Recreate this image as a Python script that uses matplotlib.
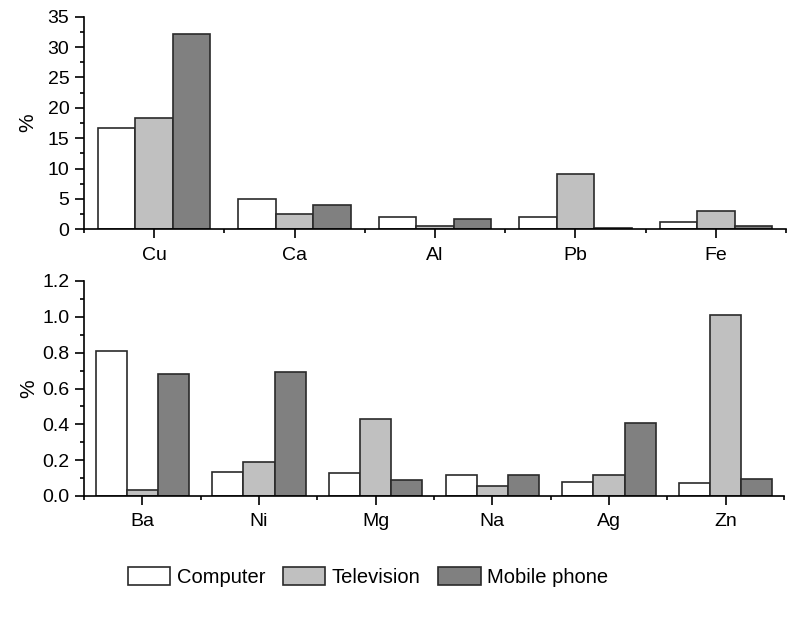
import matplotlib
matplotlib.use('Agg')
import matplotlib.pyplot as plt
from matplotlib.ticker import MultipleLocator, FormatStrFormatter
import numpy as np

plt.rcParams['font.family'] = ['Liberation Sans', 'DejaVu Sans']

series = ['Computer', 'Television', 'Mobile phone']
colors = ['#ffffff', '#c0c0c0', '#808080']

top_elements = ['Cu', 'Ca', 'Al', 'Pb', 'Fe']
top_computer = [16.6, 5.0, 2.1, 2.1, 1.15]
top_television = [18.4, 2.5, 0.6, 9.1, 3.07]
top_mobile = [32.2, 4.06, 1.75, 0.2, 0.5]

bottom_elements = ['Ba', 'Ni', 'Mg', 'Na', 'Ag', 'Zn']
bottom_computer = [0.81, 0.132, 0.13, 0.12, 0.08, 0.07]
bottom_television = [0.032, 0.19, 0.427, 0.058, 0.12, 1.01]
bottom_mobile = [0.68, 0.69, 0.09, 0.12, 0.41, 0.097]

W, H = 794, 622
fig = plt.figure(figsize=(W / 100, H / 100), dpi=100)
ax_top = fig.add_axes([84 / W, 1 - 229.3 / H, (786 - 84) / W, (229.3 - 16.7) / H])
ax_bot = fig.add_axes([84 / W, 1 - 496 / H, (784 - 84) / W, (496 - 281) / H])


def draw(ax, labels, groups, ymax, major, minor, fmt):
    x = np.arange(len(labels))
    w = 0.8 / 3
    handles = []
    for i, (vals, c, name) in enumerate(zip(groups, colors, series)):
        b = ax.bar(x + (i - 1) * w, vals, width=w, color=c, edgecolor='#2a2a2a',
                   linewidth=1.2, label=name)
        handles.append(b)
    ax.set_xlim(-0.5, len(labels) - 0.5)
    ax.set_ylim(0, ymax)
    ax.set_xticks(x)
    ax.set_xticklabels(labels)
    ax.set_xticks(np.arange(len(labels) + 1) - 0.5, minor=True)
    ax.yaxis.set_major_locator(MultipleLocator(major))
    ax.yaxis.set_minor_locator(MultipleLocator(minor))
    ax.yaxis.set_major_formatter(FormatStrFormatter(fmt))
    for s in ['top', 'right']:
        ax.spines[s].set_visible(False)
    for s in ['left', 'bottom']:
        ax.spines[s].set_linewidth(1.2)
    ax.tick_params(which='major', length=6.5, width=1.2, labelsize=14, direction='out')
    ax.tick_params(axis='x', which='major', pad=6)
    ax.tick_params(axis='y', which='major', pad=4)
    ax.tick_params(which='minor', length=3, width=1.2, direction='out')
    ax.set_ylabel('%', fontsize=15)
    return handles


handles = draw(ax_top, top_elements, [top_computer, top_television, top_mobile],
               35, 5, 2.5, '%d')
draw(ax_bot, bottom_elements, [bottom_computer, bottom_television, bottom_mobile],
     1.2, 0.2, 0.1, '%.1f')

ax_top.yaxis.set_label_coords(-0.066, 0.5)
ax_bot.yaxis.set_label_coords(-0.066, 0.5)

fig.legend(handles=handles, loc='center', bbox_to_anchor=(368 / W, 1 - 577 / H),
           ncol=3, frameon=False, fontsize=14.5, handlelength=2.1, handleheight=1.0,
           handletextpad=0.3, columnspacing=0.9)

fig.savefig('out.png', dpi=100)
